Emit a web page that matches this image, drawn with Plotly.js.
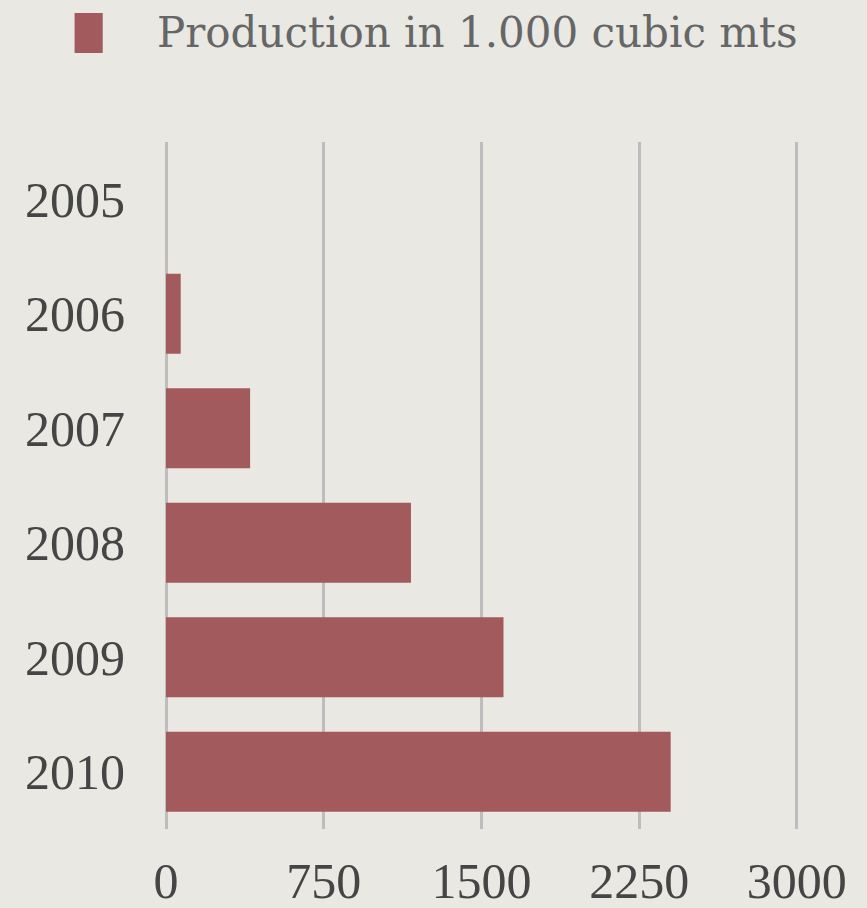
<!DOCTYPE html>
<html>
<head>
<meta charset="utf-8">
<script src="https://cdn.plot.ly/plotly-3.0.1.min.js"></script>
<style>html,body{margin:0;padding:0;background:#e9e8e3;}#chart{width:867px;height:908px;}</style>
</head>
<body>
<div id="chart"></div>
<script>
const years = ['2005', '2006', '2007', '2008', '2009', '2010'];
const production = [0, 70, 400, 1165, 1605, 2400];
const xTicks = [0, 750, 1500, 2250, 3000];
const seriesName = 'Production in 1.000 cubic mts';

const barColor = '#a35a5c';
const textColor = '#454545';
const gridColor = '#bdbdbd';

const trace = {
  type: 'bar',
  orientation: 'h',
  y: years,
  x: production,
  name: seriesName,
  marker: {color: barColor, line: {width: 0}},
  hoverinfo: 'x+y'
};

const layout = {
  width: 867,
  height: 908,
  margin: {l: 166, r: 67, t: 142, b: 79},
  paper_bgcolor: '#e9e8e3',
  plot_bgcolor: 'rgba(0,0,0,0)',
  showlegend: false,
  bargap: 0.3,
  font: {family: 'Liberation Serif, serif', color: textColor},
  xaxis: {
    range: [0, 3015],
    tickvals: xTicks,
    ticktext: xTicks.map(String),
    showgrid: true,
    gridcolor: gridColor,
    gridwidth: 3,
    zeroline: true,
    zerolinecolor: gridColor,
    zerolinewidth: 3,
    showline: false,
    ticks: '',
    ticklabelstandoff: 18,
    tickfont: {family: 'Liberation Serif, serif', size: 50, color: textColor}
  },
  yaxis: {
    type: 'category',
    categoryorder: 'array',
    categoryarray: years,
    autorange: 'reversed',
    showgrid: false,
    zeroline: false,
    showline: false,
    ticks: '',
    ticklabelstandoff: 40,
    tickfont: {family: 'Liberation Serif, serif', size: 50, color: textColor}
  },
  shapes: [{
    type: 'rect', xref: 'paper', yref: 'paper',
    x0: -0.1442, x1: -0.0998, y0: 1.1295, y1: 1.1878,
    fillcolor: barColor, line: {width: 0}
  }],
  annotations: [{
    xref: 'paper', yref: 'paper',
    x: -0.0174, y: 1.1587, xanchor: 'left', yanchor: 'middle',
    text: seriesName, showarrow: false,
    font: {family: 'DejaVu Serif, serif', size: 42, color: '#666666'}
  }]
};

Plotly.newPlot('chart', [trace], layout, {displayModeBar: false, staticPlot: true});
</script>
</body>
</html>
